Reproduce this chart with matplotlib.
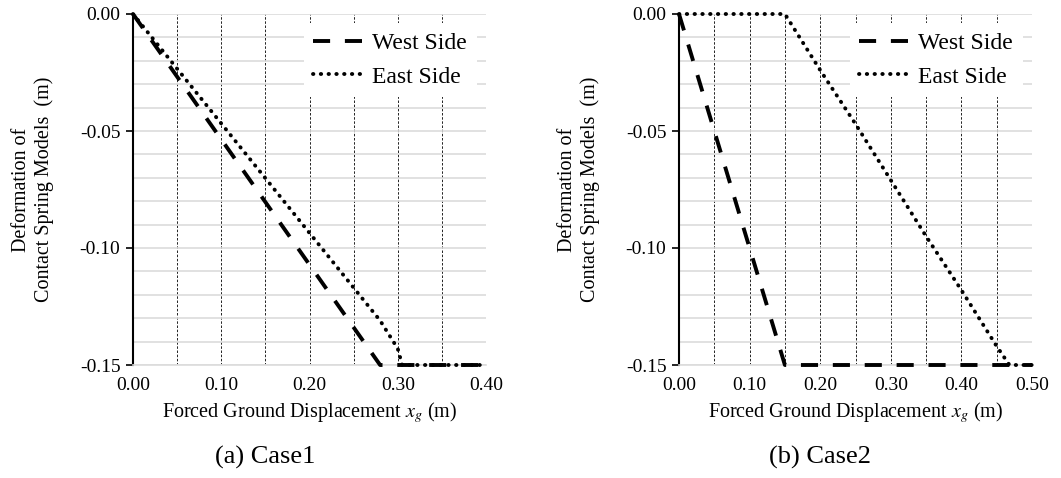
import matplotlib
matplotlib.use("Agg")
import matplotlib.pyplot as plt
from matplotlib.ticker import MultipleLocator, FormatStrFormatter

plt.rcParams['font.family'] = ['Liberation Serif', 'DejaVu Serif']
plt.rcParams['mathtext.fontset'] = 'stix'

# Case1
c1_west_x = [0.0, 0.28, 0.40]
c1_west_y = [0.0, -0.15, -0.15]
c1_east_x = [0.0, 0.28, 0.30, 0.305, 0.40]
c1_east_y = [0.0, -0.131, -0.143, -0.15, -0.15]

# Case2
c2_west_x = [0.0, 0.15, 0.50]
c2_west_y = [0.0, -0.15, -0.15]
c2_east_x = [0.0, 0.15, 0.20, 0.25, 0.30, 0.35, 0.40, 0.45, 0.468, 0.50]
c2_east_y = [0.0, 0.0, -0.024, -0.047, -0.071, -0.095, -0.118, -0.142, -0.15, -0.15]

captions = ["(a) Case1", "(b) Case2"]
xmax = [0.40, 0.50]

fig = plt.figure(figsize=(10.61, 4.78), dpi=100)
ax1 = fig.add_axes([133/1061, 1-365/478, 353/1061, 351/478])
ax2 = fig.add_axes([679/1061, 1-365/478, 353/1061, 351/478])

data = [(c1_west_x, c1_west_y, c1_east_x, c1_east_y),
        (c2_west_x, c2_west_y, c2_east_x, c2_east_y)]

for i, (ax, d) in enumerate(zip([ax1, ax2], data)):
    wx, wy, ex, ey = d
    ax.plot(ex, ey, color='black', lw=2.8, linestyle=(0, (0.1, 1.9)),
            dash_capstyle='round', clip_on=False, label='East Side', zorder=3)
    ax.plot(wx, wy, color='black', lw=2.8, linestyle=(0, (4.4, 3.8)),
            clip_on=False, label='West Side', zorder=4)

    ax.set_xlim(0, xmax[i])
    ax.set_ylim(-0.15, 0)
    ax.xaxis.set_major_locator(MultipleLocator(0.1))
    ax.xaxis.set_minor_locator(MultipleLocator(0.05))
    ax.yaxis.set_major_locator(MultipleLocator(0.05))
    ax.yaxis.set_minor_locator(MultipleLocator(0.01))
    ax.xaxis.set_major_formatter(FormatStrFormatter('%.2f'))
    ax.yaxis.set_major_formatter(FormatStrFormatter('%.2f'))

    ax.grid(axis='y', which='both', color='#dcdcdc', lw=1.2)
    ax.grid(axis='x', which='both', color='black', lw=0.6, linestyle=(0, (3, 2)))
    ax.set_axisbelow(True)

    ax.tick_params(axis='x', which='both', length=0, labelsize=14, pad=9)
    ax.tick_params(axis='y', which='major', length=5, width=1.2, direction='out',
                   labelsize=14, pad=4)
    ax.tick_params(axis='y', which='minor', length=0)

    for s in ['top', 'right']:
        ax.spines[s].set_visible(False)
    ax.spines['bottom'].set_color('#dcdcdc')
    ax.spines['bottom'].set_linewidth(1.2)
    ax.spines['left'].set_linewidth(1.5)

    ax.set_xlabel('Forced Ground Displacement $x_g$ (m)', fontsize=14.5)
    ax.xaxis.set_label_coords(0.5, -0.10)
    ax.set_ylabel('Deformation of\nContact Spring Models  (m)', fontsize=14.5, linespacing=1.2)

    h, l = ax.get_legend_handles_labels()
    leg = ax.legend(h[::-1], l[::-1], loc='upper right', fontsize=17,
                    frameon=True, facecolor='white', edgecolor='none',
                    framealpha=1, handlelength=2.2, borderaxespad=0.4,
                    handletextpad=0.3, labelspacing=0.5)

ax1.yaxis.set_label_coords(-0.225, 0.5)
ax2.yaxis.set_label_coords(-0.225, 0.5)

fig.text(265/1061, 1-457/478, captions[0], fontsize=19, ha='center', va='center')
fig.text(820/1061, 1-457/478, captions[1], fontsize=19, ha='center', va='center')

fig.savefig('out.png', dpi=100)
